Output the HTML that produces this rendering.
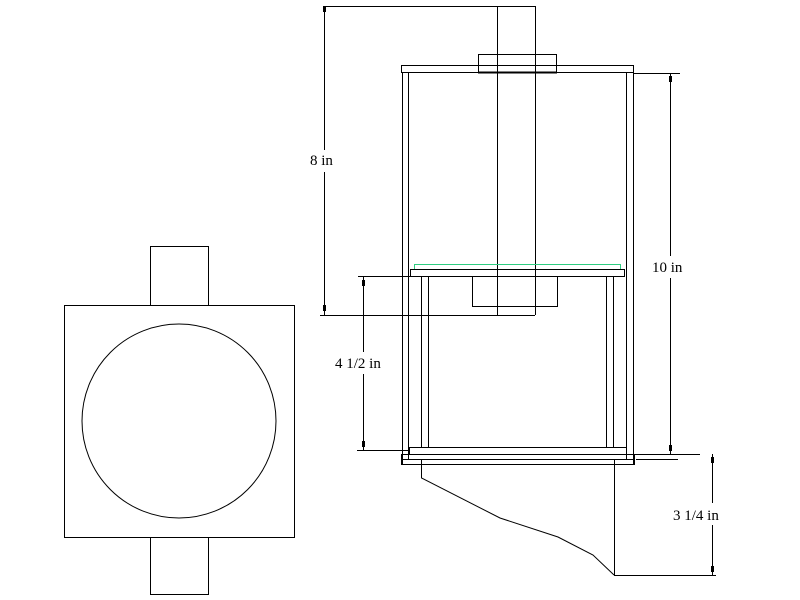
<!DOCTYPE html>
<html><head><style>body{margin:0;background:#fff}svg{display:block}text{font-family:"Liberation Serif",serif;font-size:15px;fill:#000}</style></head>
<body>
<svg width="800" height="600" viewBox="0 0 800 600" fill="none" stroke="#000" stroke-width="1">
<rect x="64.5" y="305.5" width="230" height="232"/>
<circle cx="179" cy="421" r="97"/>
<rect x="150.5" y="246.5" width="58" height="59"/>
<rect x="150.5" y="537.5" width="58" height="57"/>
<line x1="324" y1="6.5" x2="535" y2="6.5"/>
<line x1="497.5" y1="6" x2="497.5" y2="315"/>
<line x1="535.5" y1="6" x2="535.5" y2="315"/>
<line x1="320" y1="315.5" x2="535" y2="315.5"/>
<rect x="478.5" y="54.5" width="78" height="18"/>
<rect x="401.5" y="65.5" width="232" height="7"/>
<line x1="478" y1="72.5" x2="557" y2="72.5" stroke-width="2"/>
<line x1="402.5" y1="72" x2="402.5" y2="464"/>
<line x1="408.5" y1="72" x2="408.5" y2="459"/>
<line x1="626.5" y1="72" x2="626.5" y2="459"/>
<line x1="633.5" y1="72" x2="633.5" y2="464"/>
<line x1="633" y1="73.5" x2="680" y2="73.5"/>
<rect x="414.5" y="264.5" width="206" height="5" stroke="#2ecc80"/>
<rect x="410.5" y="269.5" width="214" height="7"/>
<rect x="472.5" y="276.5" width="85" height="30"/>
<rect x="421.5" y="276.5" width="7" height="171"/>
<rect x="606.5" y="276.5" width="7" height="171"/>
<rect x="409.5" y="447.5" width="217" height="7"/>
<line x1="402" y1="459.5" x2="634" y2="459.5"/>
<rect x="401.5" y="454.5" width="233" height="10"/>
<line x1="408.5" y1="454" x2="408.5" y2="459"/>
<polyline points="421.5,459 421.5,478 500,518 558,537 593,555 614,575"/>
<line x1="614.5" y1="459" x2="614.5" y2="575"/>
<line x1="614" y1="575.5" x2="716" y2="575.5"/>
<line x1="626" y1="454.5" x2="700" y2="454.5"/>
<line x1="636" y1="459.5" x2="678" y2="459.5"/>
<line x1="324.5" y1="6" x2="324.5" y2="150"/>
<line x1="324.5" y1="172" x2="324.5" y2="315"/>
<line x1="358" y1="276.5" x2="410" y2="276.5"/>
<line x1="357" y1="450.5" x2="409" y2="450.5"/>
<line x1="363.5" y1="276" x2="363.5" y2="352"/>
<line x1="363.5" y1="374" x2="363.5" y2="450"/>
<line x1="670.5" y1="73" x2="670.5" y2="256"/>
<line x1="670.5" y1="278" x2="670.5" y2="454"/>
<line x1="712.5" y1="454" x2="712.5" y2="503"/>
<line x1="712.5" y1="525" x2="712.5" y2="575"/>
<g fill="#000" stroke="none">
<rect x="323" y="6" width="3" height="6"/><rect x="323" y="305" width="3" height="6"/>
<rect x="362" y="280" width="3" height="6"/><rect x="362" y="441" width="3" height="6"/>
<rect x="669" y="76" width="3" height="6"/><rect x="669" y="445" width="3" height="6"/>
<rect x="711" y="457" width="3" height="6"/><rect x="711" y="566" width="3" height="6"/>
</g>
<text x="310" y="165" stroke="none">8 in</text>
<text x="335" y="368" stroke="none">4 1/2 in</text>
<text x="652" y="272" stroke="none">10 in</text>
<text x="673" y="520" stroke="none">3 1/4 in</text>
</svg>
</body></html>
